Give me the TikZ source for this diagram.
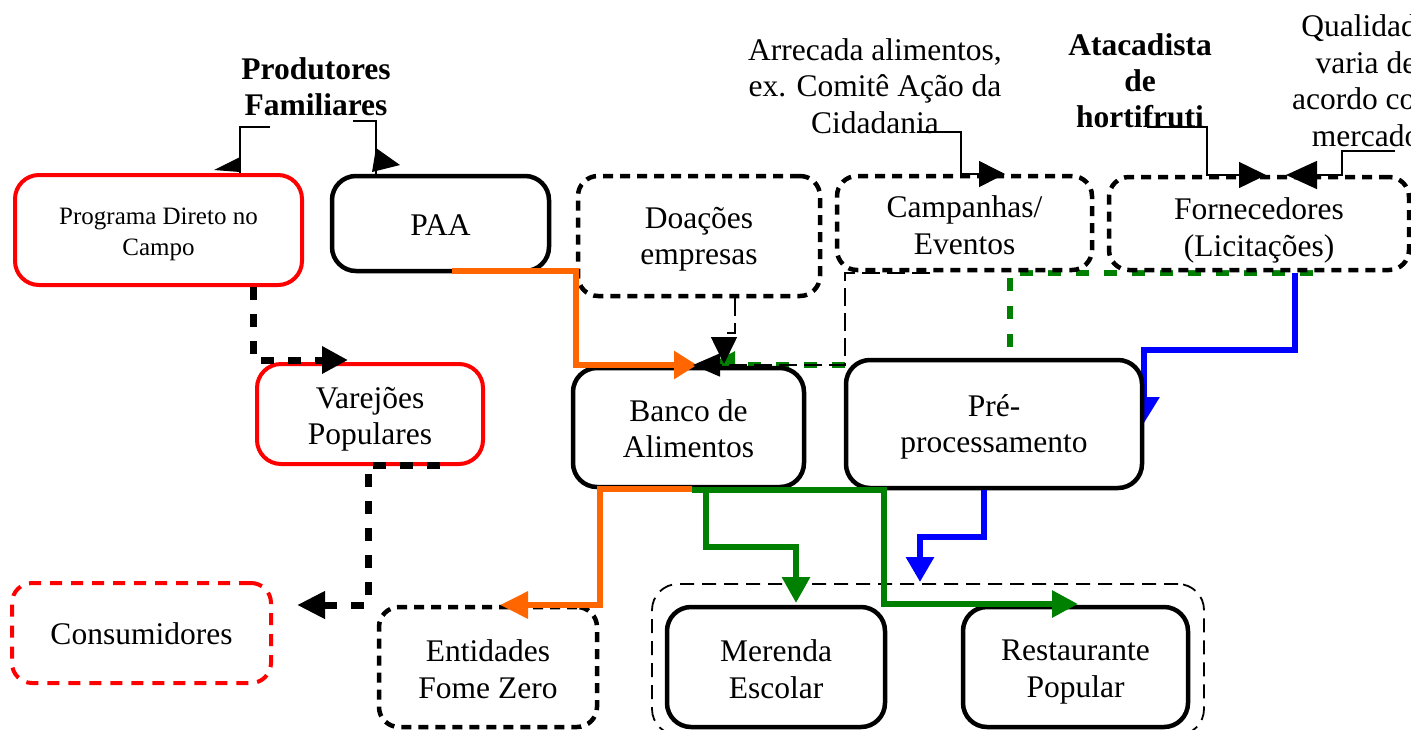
\documentclass[tikz,border=0pt]{standalone}
\usepackage{fontspec}
\setmainfont{Liberation Serif}
\usetikzlibrary{arrows.meta}
\definecolor{flowred}{RGB}{255,0,0}
\definecolor{floworange}{RGB}{255,102,0}
\definecolor{flowgreen}{RGB}{0,128,0}
\definecolor{flowblue}{RGB}{0,0,255}
\pgfdeclarelayer{back}
\pgfsetlayers{back,main}
\begin{document}
\begin{tikzpicture}[x=1pt,y=-1pt,
  txt/.style={font=\fontsize{31.5}{36.5}\selectfont, align=center, inner sep=0pt},
  boldtxt/.style={font=\fontsize{31.5}{36}\selectfont\bfseries, align=center, inner sep=0pt},
  basebox/.style={rounded corners=24pt, fill=white, line width=4.5pt, inner sep=0pt},
  solidbox/.style={basebox, draw=black},
  redbox/.style={basebox, draw=flowred, line width=4pt},
  dotbox/.style={basebox, draw=black, dash pattern=on 10pt off 7pt, rounded corners=20pt},
  reddotbox/.style={basebox, draw=flowred, line width=4pt, dash pattern=on 12pt off 9pt, rounded corners=20pt},
  groupbox/.style={draw=black, line width=1.8pt, dash pattern=on 14pt off 8pt, rounded corners=26pt},
  note/.style={draw=black, line width=1.5pt},
  thindash/.style={draw=black, line width=1.6pt, dash pattern=on 18pt off 7pt},
  blackdash/.style={draw=black, line width=7pt, dash pattern=on 13pt off 14pt},
  greendash/.style={draw=flowgreen, line width=6pt, dash pattern=on 13pt off 15pt},
  flow/.style={line width=6pt, line join=miter},
  tip/.style={-{Triangle[length=#1, width=26pt]}},
]
\useasboundingbox (0,0) rectangle (1411,729);

% ---- labels above the boxes
\node[boldtxt] (lprod) at (316,87) {Produtores\\Familiares};
\node[txt] (larr) at (875,86) {Arrecada alimentos,\\ex. Comitê Ação da\\Cidadania};
\node[boldtxt] (lata) at (1140,81) {Atacadista\\de\\hortifruti};
\node[txt] (lqual) at (1366,80.5) {Qualidade\\varia de\\acordo com\\mercado};

% ---- dashed frame around the school/restaurant pair
\node[groupbox, minimum width=552pt, minimum height=151pt] (grp) at (928,659.5) {};

% ---- boxes (frames), their texts follow
\node[redbox, minimum width=287pt, minimum height=110pt] (prog) at (158.5,230) {};
\node[solidbox, minimum width=217pt, minimum height=95pt] (paa) at (440.5,223.5) {};
\node[dotbox, minimum width=242pt, minimum height=120pt] (doa) at (699,236) {};
\node[dotbox, minimum width=255pt, minimum height=94pt] (camp) at (964.5,223) {};
\node[dotbox, minimum width=300pt, minimum height=93pt] (forn) at (1259,223.5) {};
\node[redbox, minimum width=226pt, minimum height=100pt] (vare) at (370,414) {};
\node[solidbox, minimum width=231pt, minimum height=119pt] (banco) at (688.5,427.5) {};
\node[reddotbox, minimum width=259pt, minimum height=100pt] (cons) at (141.5,633) {};
\node[dotbox, minimum width=218pt, minimum height=120pt] (ent) at (488,667) {};
\node[solidbox, minimum width=218pt, minimum height=120pt] (mer) at (776,667) {};
\node[solidbox, minimum width=225pt, minimum height=120pt] (rest) at (1075.5,667) {};

\node[txt, font=\fontsize{25}{31}\selectfont] (prog-t) at ([yshift=-4pt]prog.center) {Programa Direto no\\Campo};
\node[txt] (paa-t)   at ([yshift=-2pt]paa.center)   {PAA};
\node[txt] (doa-t)   at ([yshift=-3pt]doa.center)   {Doações\\empresas};
\node[txt] (camp-t)  at ([yshift=-2pt]camp.center)  {Campanhas/\\Eventos};
\node[txt] (forn-t)  at ([yshift=-7pt]forn.center)  {Fornecedores\\(Licitações)};
\node[txt] (vare-t)  at ([yshift=-5pt]vare.center)  {Varejões\\Populares};
\node[txt] (banco-t) at ([yshift=-1pt]banco.center) {Banco de\\Alimentos};
\node[txt] (cons-t)  at ([yshift=-1pt]cons.center)  {Consumidores};
\node[txt] (ent-t)   at ([yshift=-2pt]ent.center)   {Entidades\\Fome Zero};
\node[txt] (mer-t)   at ([yshift=-2pt]mer.center)   {Merenda\\Escolar};
\node[txt] (rest-t)  at ([yshift=-5pt]rest.center)  {Restaurante\\Popular};

% ---- bend points and free ends
\coordinate (pfa) at (270,127);  \coordinate (pfb) at (240,127);
\coordinate (pfc) at (353,121);  \coordinate (pfd) at (376,121);
\coordinate (arA) at (917,132);  \coordinate (arB) at (961,132);  \coordinate (arT) at (1005,174);
\coordinate (atA) at (1147,127); \coordinate (atB) at (1207,127); \coordinate (atT) at (1266,175);
\coordinate (quA) at (1395,151); \coordinate (quB) at (1342,151); \coordinate (quT) at (1286,175);
\coordinate (pvA) at (253,360);  \coordinate (pvT) at (348,360);
\coordinate (vcA) at (440,465);  \coordinate (vcB) at (368,465); \coordinate (vcC) at (368,605); \coordinate (vcT) at (297,605);
\coordinate (obS) at (452,271);  \coordinate (obA) at (576,271);  \coordinate (obB) at (576,365); \coordinate (obT) at (697,365);
\coordinate (dbA) at (735,333);  \coordinate (dbB) at (724,333); \coordinate (dbT) at (724,364);
\coordinate (cbA) at (930,273);  \coordinate (cbB) at (845,273); \coordinate (cbC) at (845,365); \coordinate (cbT) at (693,365);
\coordinate (gbA) at (1313,273); \coordinate (gbB) at (1010,273); \coordinate (gbC) at (1010,365); \coordinate (gbT) at (708,365);
\coordinate (bpA) at (1295,273); \coordinate (bpB) at (1295,350); \coordinate (bpC) at (1144,350); \coordinate (bpT) at (1144,423);
\coordinate (oeA) at (692,489);  \coordinate (oeB) at (600,489); \coordinate (oeC) at (600,605); \coordinate (oeT) at (500,605);
\coordinate (gmA) at (692,490);  \coordinate (gmB) at (884,490); \coordinate (gmC) at (884,604); \coordinate (gmT) at (1078,604);
\coordinate (gsA) at (706,490);  \coordinate (gsB) at (706,547); \coordinate (gsC) at (796,547); \coordinate (gsT) at (796,603);
\coordinate (pgA) at (984,537);  \coordinate (pgB) at (920,537); \coordinate (pgT) at (920,582);

% ---- connectors passing under the pre-processing box
\begin{pgfonlayer}{back}
  \draw[greendash, tip=27pt] (gbA) -- (gbB) -- (gbC) -- (gbT);
  \draw[flow, flowblue, -{Triangle[length=26pt, width=30pt]}] (bpA) -- (bpB) -- (bpC) -- (bpT);
\end{pgfonlayer}
\node[solidbox, minimum width=296pt, minimum height=128pt] (pre) at (994,424) {};
\node[txt] (pre-t) at ([yshift=-3pt]pre.center) {Pré-\\processamento};

% ---- label pointers
\draw[note] (pfa) -- (pfb) -- (pfb |- prog.north);
\fill (214,170) -- (240,157) -- (240,172) -- cycle;
\draw[note] (pfc) -- (pfd) -- (pfd |- paa.north);
\fill (376,148) -- (400,165) -- (372,172) -- cycle;
\draw[note, tip=26pt] (arA) -- (arB) -- (arB |- arT) -- (arT);
\draw[note, tip=27pt] (atA) -- (atB) -- (atB |- atT) -- (atT);
\draw[note, -{Triangle[length=31pt, width=28pt]}] (quA) -- (quB) -- (quB |- quT) -- (quT);

% ---- flows
\draw[blackdash, tip=26pt] (prog.south -| pvA) -- (pvA) -- (pvT);
\draw[blackdash, tip=28pt] (vcA) -- (vcB) -- (vcC) -- (vcT);
\draw[flow, floworange, -{Triangle[length=23pt, width=27pt]}] (obS) -- (obA) -- (obB) -- (obT);
\draw[thindash, tip=27pt] (doa.south -| dbA) -- (dbA) -- (dbB) -- (dbT);
\draw[thindash, -{Triangle[length=27pt, width=23pt]}] (cbA) -- (cbB) -- (cbC) -- (cbT);
\draw[flow, floworange, -{Triangle[length=28pt, width=26pt]}] (oeA) -- (oeB) -- (oeC) -- (oeT);
\draw[flow, flowgreen, -{Triangle[length=26pt, width=26pt]}] (gmA) -- (gmB) -- (gmC) -- (gmT);
\draw[flow, flowgreen, -{Triangle[length=26pt, width=27pt]}] (gsA) -- (gsB) -- (gsC) -- (gsT);
\draw[flow, flowblue, -{Triangle[length=25pt, width=27pt]}] (pre.south -| pgA) -- (pgA) -- (pgB) -- (pgT);
\end{tikzpicture}
\end{document}
